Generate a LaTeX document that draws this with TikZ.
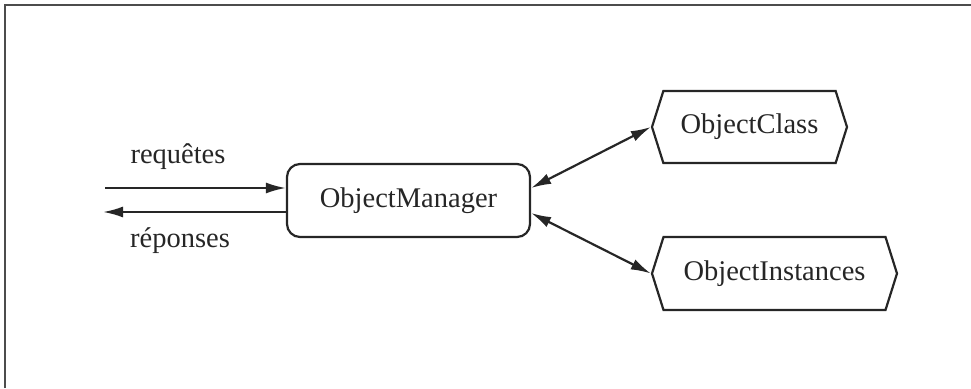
\documentclass[tikz,border=0pt]{standalone}
\usepackage{fontspec}
\setmainfont{Liberation Serif}
\usetikzlibrary{arrows.meta,shapes.symbols}
\begin{document}
\begin{tikzpicture}[x=1pt,y=-1pt,
  every node/.style={font=\fontsize{28.5}{32}\selectfont, text=black!85},
  ln/.style={line width=2.2pt, draw=black!85},
  tip/.tip={Latex[length=20pt,width=11pt]},
  arr/.style={ln, -tip},
  darr/.style={ln, tip-tip},
  mgr/.style={ln, rounded corners=13pt, minimum width=243pt, minimum height=73pt, inner sep=0pt},
  hexa/.style={ln, shape=signal, signal to=east and west, signal pointer angle=145, inner sep=0pt}
]
\useasboundingbox (0,0) rectangle (971,388);
% frame (top and left edges)
\draw[line width=2.4pt, draw=black!70] (5,388) -- (5,5) -- (971,5);

\node[mgr] (om) at (408.5,200.5) {ObjectManager};
\node[hexa, minimum width=195pt, minimum height=72pt] (oc) at (749.5,127) {ObjectClass};
\node[hexa, minimum width=245pt, minimum height=73pt] (oi) at (774.5,273.5) {ObjectInstances};

\coordinate (rin) at (105,188);
\coordinate (rout) at (103,212);
\draw[arr] (rin) -- ([yshift=12.5pt]om.west);
\draw[arr] ([yshift=-11.5pt]om.west) -- (rout);

\node (lreq) at (178,157) {requêtes};
\node (lrep) at (180,241) {réponses};

\draw[darr] ([yshift=12.5pt]om.east) -- (oc.west);
\draw[darr] ([yshift=-12.5pt]om.east) -- (oi.west);
\end{tikzpicture}
\end{document}
